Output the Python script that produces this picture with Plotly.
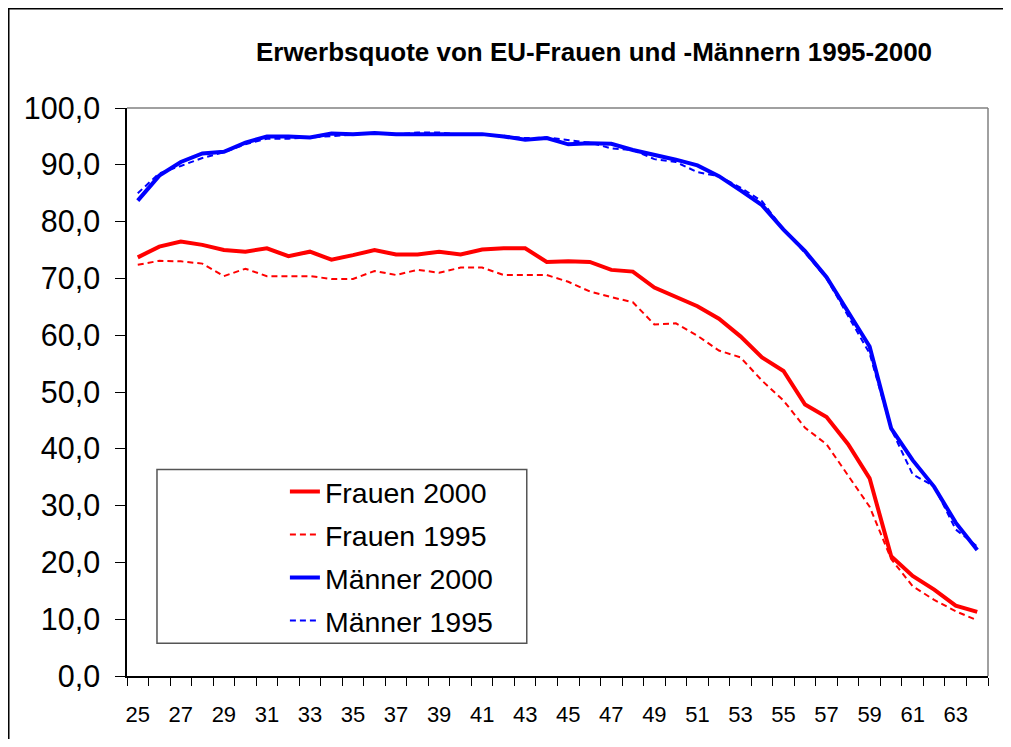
import plotly.graph_objects as go

ages = list(range(25, 65))

frauen_2000 = [73.7, 75.6, 76.5, 75.9, 75.0, 74.7, 75.3, 73.9, 74.7, 73.3,
               74.1, 75.0, 74.2, 74.2, 74.7, 74.2, 75.1, 75.3, 75.3, 72.9,
               73.0, 72.9, 71.5, 71.2, 68.4, 66.7, 65.1, 62.9, 59.8, 56.1,
               53.7, 47.8, 45.6, 40.8, 34.8, 21.1, 17.6, 15.2, 12.4, 11.3]

frauen_1995 = [72.4, 73.1, 73.0, 72.6, 70.4, 71.7, 70.4, 70.4, 70.4, 69.9,
               69.9, 71.3, 70.6, 71.5, 71.0, 71.9, 71.9, 70.6, 70.6, 70.6,
               69.4, 67.7, 66.7, 65.8, 61.9, 62.1, 59.9, 57.3, 56.1, 52.0,
               48.5, 43.7, 40.8, 35.4, 29.8, 20.6, 15.8, 13.4, 11.4, 9.8]

maenner_2000 = [83.7, 88.1, 90.5, 92.0, 92.3, 93.9, 95.0, 95.0, 94.8, 95.5,
                95.4, 95.6, 95.4, 95.4, 95.4, 95.4, 95.4, 95.0, 94.4, 94.7,
                93.6, 93.8, 93.7, 92.6, 91.8, 90.9, 89.9, 88.0, 85.5, 82.9,
                78.6, 74.8, 70.2, 64.0, 58.0, 43.6, 38.0, 33.3, 27.0, 22.2]

maenner_1995 = [85.0, 88.5, 89.8, 91.2, 92.2, 93.6, 94.6, 94.6, 94.8, 95.0,
                95.3, 95.6, 95.3, 95.7, 95.7, 95.3, 95.4, 95.1, 94.7, 94.8,
                94.3, 93.9, 92.9, 92.6, 91.0, 90.5, 88.7, 88.0, 86.0, 83.6,
                78.6, 74.5, 70.0, 63.5, 56.8, 43.5, 35.5, 33.4, 25.8, 22.8]

x_tick_labels = [str(a) for a in range(25, 64, 2)]
y_tick_values = list(range(0, 101, 10))

FONT = "Liberation Sans, Arial, sans-serif"

fig = go.Figure()
series = [
    ("Frauen 2000", frauen_2000, "#FF0000", 4, "solid"),
    ("Frauen 1995", frauen_1995, "#FF0000", 2, "6px,4px"),
    ("Männer 2000", maenner_2000, "#0000FF", 4, "solid"),
    ("Männer 1995", maenner_1995, "#0000FF", 2, "6px,4px"),
]
for name, vals, color, w, dash in series:
    fig.add_trace(go.Scatter(
        x=ages, y=vals, mode="lines", name=name, legendgroup=name,
        line=dict(color=color, width=w, dash=dash),
    ))

# page body has an 8px margin; work in reference pixel coordinates
OFF = 8
W, H = 1011 - 2 * OFF, 747 - 2 * OFF
PL, PR, PT, PB = 127, 988.5, 108.3, 678.3   # plot area in reference pixels
L = PL - OFF
T = PT - OFF
R = W - (PR - OFF)
B = H - (PB - OFF)
pw = PR - PL
ph = PB - PT

def px_x(p):
    return (p - PL) / pw

def px_y(p):
    return (PB - p) / ph

fig.update_layout(
    width=W, height=H,
    margin=dict(l=L, r=R, t=T, b=B, pad=0),
    paper_bgcolor="white", plot_bgcolor="white",
    separators=",.",
    font=dict(family=FONT, color="black"),
    title=dict(
        text="<b>Erwerbsquote von EU-Frauen und -Männern 1995-2000</b>",
        font=dict(family=FONT, size=26, color="black"),
        x=(594 - OFF) / W, xanchor="center", xref="container",
        y=1 - (52 - OFF) / H, yanchor="middle", yref="container",
    ),
    showlegend=True,
    legend=dict(
        x=px_x(285), xanchor="left",
        y=px_y(468), yanchor="top",
        bgcolor="rgba(0,0,0,0)", borderwidth=0,
        font=dict(family=FONT, size=28.5, color="black"),
        traceorder="grouped", tracegroupgap=3,
    ),
    xaxis=dict(
        range=[24.5, 64.5],
        tickmode="array", tickvals=list(range(25, 64, 2)), ticktext=x_tick_labels,
        ticks="outside", ticklen=18, tickcolor="rgba(0,0,0,0)",
        tickfont=dict(family=FONT, size=22, color="black"),
        showline=True, linecolor="black", linewidth=1.5,
        showgrid=False, zeroline=False,
        minor=dict(tickmode="array", tickvals=[a - 0.5 for a in range(25, 66)],
                   ticks="outside", ticklen=8, tickcolor="black", tickwidth=1,
                   showgrid=False),
    ),
    yaxis=dict(
        range=[0, 100],
        tickmode="array", tickvals=y_tick_values,
        tickformat=".1f",
        ticks="outside", ticklen=10, tickcolor="black", tickwidth=1,
        tickfont=dict(family=FONT, size=30.5, color="black"),
        ticklabelstandoff=9,
        showline=True, linecolor="black", linewidth=1.5,
        showgrid=False, zeroline=False,
    ),
    shapes=[
        # plot area top and right border (gray)
        dict(type="line", xref="paper", yref="paper", x0=0, x1=1, y0=1, y1=1,
             line=dict(color="#808080", width=1.5)),
        dict(type="line", xref="paper", yref="paper", x0=1, x1=1, y0=0, y1=1,
             line=dict(color="#808080", width=1.5)),
        # legend box
        dict(type="rect", xref="paper", yref="paper",
             x0=px_x(157), x1=px_x(527), y0=px_y(645.5), y1=px_y(471),
             line=dict(color="#555555", width=1.5), fillcolor="rgba(0,0,0,0)"),
        # outer chart frame
        dict(type="rect", xref="paper", yref="paper",
             x0=px_x(8.7), x1=px_x(1040), y0=px_y(780), y1=px_y(8.8),
             line=dict(color="black", width=1.5), fillcolor="rgba(0,0,0,0)"),
    ],
)

fig.write_html("out.html")
